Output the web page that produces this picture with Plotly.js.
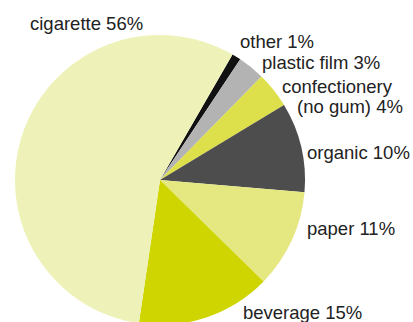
<!DOCTYPE html>
<html>
<head>
<meta charset="utf-8">
<script src="https://cdn.plot.ly/plotly-3.0.1.min.js"></script>
<style>
html, body { margin: 0; padding: 0; overflow: hidden; background: #fff; }
#chart { width: 413px; height: 360px; }
</style>
</head>
<body>
<div id="chart"></div>
<script>
// Data (clockwise order starting just right of 12 o'clock)
var categories = ["other", "plastic film", "confectionery<br>(no gum)", "organic", "paper", "beverage", "cigarette"];
var percentages = [1, 3, 4, 10, 11, 15, 56];
var colors = ["#111111", "#b3b3b3", "#dde04b", "#4d4d4d", "#e5e880", "#cfd500", "#eef2b8"];

// Label placement (pixel positions of label lines, left edges and vertical centres)
var W = 413, H = 360;
var labelPos = [
  [[240, 41]],
  [[262, 62]],
  [[282, 86], [297, 106]],
  [[307, 152]],
  [[307, 228]],
  [[243, 312]],
  [[30, 24]]
];

var annotations = [];
categories.forEach(function (cat, i) {
  var full = cat + " " + percentages[i] + "%";
  var lines = full.split("<br>");
  lines.forEach(function (line, j) {
    var p = labelPos[i][j];
    annotations.push({
      text: line,
      xref: "paper", yref: "paper",
      x: (p[0] - 2) / W, y: 1 - p[1] / H,
      xanchor: "left", yanchor: "middle",
      showarrow: false,
      borderpad: 1,
      font: { family: "Liberation Sans, Arial, sans-serif", size: 18.5, color: "#222" }
    });
  });
});

var trace = {
  type: "pie",
  labels: categories,
  values: percentages,
  marker: { colors: colors, line: { width: 0 } },
  sort: false,
  direction: "clockwise",
  rotation: 30,
  textinfo: "none",
  hoverinfo: "label+percent",
  domain: { x: [15 / W, 305 / W], y: [(H - 325) / H, (H - 35) / H] }
};

var layout = {
  width: W, height: H,
  margin: { l: 0, r: 0, t: 0, b: 0 },
  showlegend: false,
  paper_bgcolor: "#ffffff",
  annotations: annotations
};

Plotly.newPlot("chart", [trace], layout, { displayModeBar: false, staticPlot: true });
</script>
</body>
</html>
